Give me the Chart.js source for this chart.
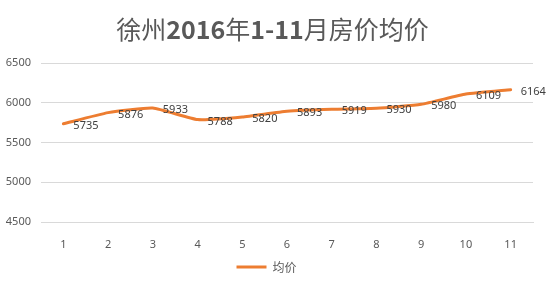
<!DOCTYPE html>
<html><head><meta charset="utf-8">
<script src="https://cdn.jsdelivr.net/npm/chart.js@4"></script>
<style>html,body{margin:0;padding:0;background:#fff}#wrap{width:547px;height:285px}</style>
</head><body><div id="wrap"><canvas id="c" width="547" height="285"></canvas></div>
<script>
const titleParts = [["徐州", false], ["2016", true], ["年", false], ["1-11", true], ["月房价均价", false]];
const categories = ["1","2","3","4","5","6","7","8","9","10","11"];
const seriesName = "均价";
const prices = [5735, 5876, 5933, 5788, 5820, 5893, 5919, 5930, 5980, 6109, 6164];
const yMin = 4500, yMax = 6500, yStep = 500;

const titlePlugin = {
  id: 'mixedTitle',
  afterDraw(chart) {
    const ctx = chart.ctx;
    ctx.save();
    const fam = '"Noto Sans CJK SC", "Noto Sans", sans-serif';
    const fontFor = b => (b ? 'bold ' : '') + '25px ' + fam;
    let total = 0;
    for (const [t, b] of titleParts) { ctx.font = fontFor(b); total += ctx.measureText(t).width; }
    let x = chart.width / 2 - total / 2 - 1;
    ctx.fillStyle = '#595959';
    ctx.textBaseline = 'middle';
    ctx.textAlign = 'left';
    for (const [t, b] of titleParts) { ctx.font = fontFor(b); ctx.fillText(t, x, 29); x += ctx.measureText(t).width; }
    ctx.restore();
  }
};

const labelPlugin = {
  id: 'valueLabels',
  afterDatasetsDraw(chart) {
    const ctx = chart.ctx;
    const meta = chart.getDatasetMeta(0);
    ctx.save();
    ctx.font = '11px "Noto Sans", "DejaVu Sans", sans-serif';
    ctx.fillStyle = '#404040';
    ctx.textAlign = 'left';
    ctx.textBaseline = 'middle';
    meta.data.forEach((pt, i) => {
      ctx.fillText(String(chart.data.datasets[0].data[i]), pt.x + 10, pt.y + 2);
    });
    ctx.restore();
  }
};

new Chart(document.getElementById('c'), {
  type: 'line',
  data: {
    labels: categories,
    datasets: [{
      label: seriesName,
      data: prices,
      borderColor: '#ED7D31',
      backgroundColor: '#ED7D31',
      borderWidth: 3,
      pointRadius: 0,
      tension: 0.15,
      borderCapStyle: 'round'
    }]
  },
  options: {
    responsive: false,
    animation: false,
    devicePixelRatio: 1,
    layout: { padding: { top: 63, right: 14, left: 0, bottom: 2 } },
    plugins: {
      title: { display: false },
      tooltip: { enabled: false },
      legend: {
        position: 'bottom',
        labels: {
          usePointStyle: true,
          pointStyle: 'line',
          pointStyleWidth: 30,
          color: '#595959',
          font: { size: 12, family: '"Noto Sans CJK SC", sans-serif' },
          padding: 8
        }
      }
    },
    scales: {
      x: {
        offset: true,
        grid: { display: false },
        border: { display: true, color: '#d9d9d9' },
        ticks: { color: '#595959', font: { size: 11, family: '"Noto Sans", sans-serif' }, padding: 8, maxRotation: 0 },
        afterFit(s) { s.height = 31; }
      },
      y: {
        min: yMin, max: yMax,
        grid: { color: '#d9d9d9', drawTicks: false },
        border: { display: false },
        ticks: { stepSize: yStep, color: '#595959', font: { size: 11, family: '"Noto Sans", sans-serif' }, padding: 10,
          callback: v => String(v) },
        afterFit(s) { s.width = 41; }
      }
    }
  },
  plugins: [titlePlugin, labelPlugin]
});
</script></body></html>
